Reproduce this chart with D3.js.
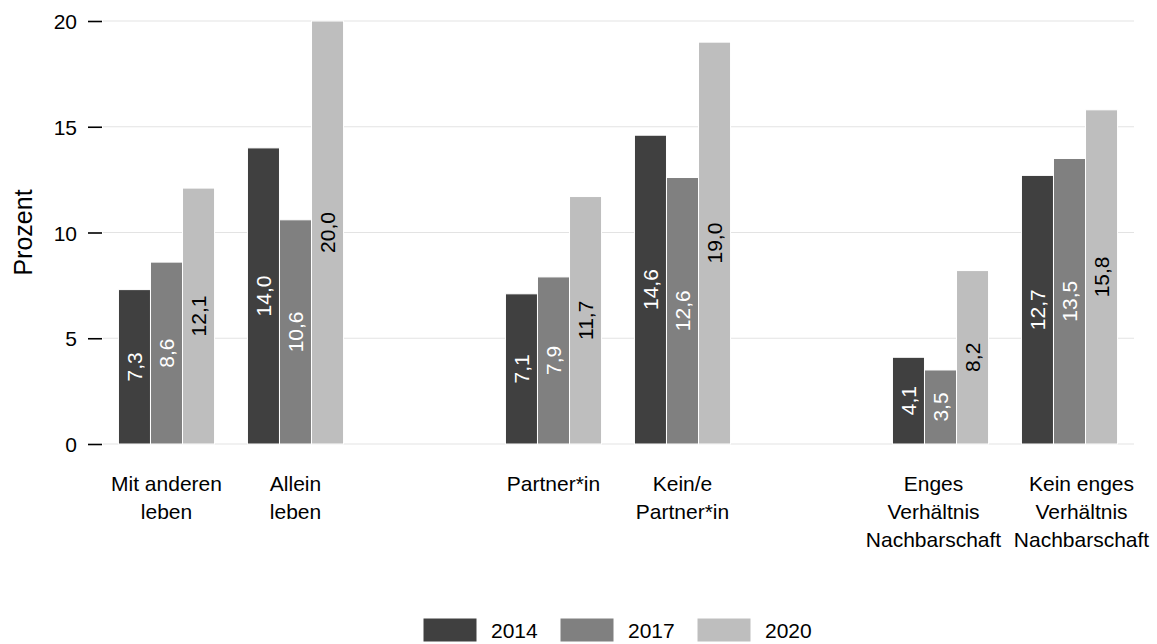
<!DOCTYPE html>
<html>
<head>
<meta charset="utf-8">
<script src="https://cdn.jsdelivr.net/npm/d3@7"></script>
<style>
  body { margin: 0; background: #fff; }
  svg text { font-family: "Liberation Sans", Arial, sans-serif; }
</style>
</head>
<body>
<div id="chart"></div>
<script>
// chart values
const categories = ['Mit anderen\nleben', 'Allein\nleben', 'Partner*in', 'Kein/e\nPartner*in',
	'Enges\nVerhältnis\nNachbarschaft', 'Kein enges\nVerhältnis\nNachbarschaft'];
const groupOf = [0, 0, 1, 1, 2, 2];
const years = ['2014', '2017', '2020'];
const values2014 = [7.3, 14.0, 7.1, 14.6, 4.1, 12.7];
const values2017 = [8.6, 10.6, 7.9, 12.6, 3.5, 13.5];
const values2020 = [12.1, 20.0, 11.7, 19.0, 8.2, 15.8];
const yTicks = [0, 5, 10, 15, 20];

const colors = { '2014': '#404040', '2017': '#808080', '2020': '#bebebe' };
const labelColors = { '2014': '#ffffff', '2017': '#ffffff', '2020': '#000000' };

const width = 1157, height = 644;
const plot = { left: 102, right: 1134, top: 21, bottom: 444 };
const fontSize = '21px';

// long labels in the last pair are pushed apart so they don't collide
const labelNudge = [0, 0, 0, 0, -7, 12];

const series = { '2014': values2014, '2017': values2017, '2020': values2020 };

// slots: a spacer between each pair of categories
const slots = [];
categories.forEach((c, i) => {
	if (i > 0 && groupOf[i] !== groupOf[i - 1]) slots.push('gap' + i);
	slots.push(c);
});

const svg = d3.select('#chart').append('svg')
	.attr('width', width)
	.attr('height', height);

// ----------------------------------
// SCALES
// ----------------------------------
const xScale = d3.scaleBand()
	.domain(slots)
	.range([plot.left, plot.right]);

const groupWidth = xScale.bandwidth() * 0.745;
const xSub = d3.scaleBand()
	.domain(years)
	.range([0, groupWidth]);

const yScale = d3.scaleLinear()
	.domain([0, 20])
	.range([plot.bottom, plot.top]);

const fmt = d3.formatLocale({ decimal: ',', thousands: '.', grouping: [3], currency: ['', '€'] }).format('.1f');

// ----------------------------------
// GRID + AXES
// ----------------------------------
svg.append('g')
	.selectAll('line')
	.data(yTicks)
	.join('line')
	.attr('x1', plot.left + 1)
	.attr('x2', plot.right)
	.attr('y1', d => yScale(d))
	.attr('y2', d => yScale(d))
	.style('stroke', '#e3e3e3')
	.style('stroke-width', 1.2);

const yAxis = svg.append('g')
	.attr('transform', `translate(${plot.left}, 0)`)
	.call(d3.axisLeft(yScale).tickValues(yTicks).tickSize(14).tickPadding(11));

yAxis.select('.domain').remove();
yAxis.selectAll('.tick line').style('stroke', '#000').style('stroke-width', 1.6);
yAxis.selectAll('.tick text')
	.style('font-size', fontSize)
	.style('fill', '#000')
	.attr('dy', '0.36em');

svg.append('text')
	.text('Prozent')
	.attr('transform', `translate(32, ${(plot.top + plot.bottom) / 2}) rotate(-90)`)
	.attr('text-anchor', 'middle')
	.style('font-size', '25px')
	.style('fill', '#000');

// ----------------------------------
// BARS
// ----------------------------------
const bars = svg.append('g');

categories.forEach((cat, i) => {
	const x0 = xScale(cat) + (xScale.bandwidth() - groupWidth) / 2;
	const g = bars.append('g').attr('transform', `translate(${x0}, 0)`);

	years.forEach(yr => {
		const v = series[yr][i];
		g.append('rect')
			.attr('x', xSub(yr))
			.attr('y', yScale(v))
			.attr('width', xSub.bandwidth())
			.attr('height', yScale(0) - yScale(v))
			.attr('fill', colors[yr])
			.attr('stroke', '#fff')
			.attr('stroke-width', 1);

		const cx = xSub(yr) + xSub.bandwidth() / 2,
			cy = yScale(v / 2);
		g.append('text')
			.text(fmt(v))
			.attr('transform', `translate(${cx}, ${cy}) rotate(-90)`)
			.attr('text-anchor', 'middle')
			.attr('dy', '0.36em')
			.style('font-size', fontSize)
			.style('fill', labelColors[yr]);
	});

	// category label
	const lbl = svg.append('text')
		.attr('text-anchor', 'middle')
		.style('font-size', fontSize)
		.style('fill', '#000');
	cat.split('\n').forEach((line, j) => {
		lbl.append('tspan')
			.attr('x', xScale(cat) + xScale.bandwidth() / 2 + labelNudge[i])
			.attr('y', 491 + j * 28)
			.text(line);
	});
});

// ----------------------------------
// LEGEND
// ----------------------------------
const legendX = d3.scaleBand()
	.domain(years)
	.range([423, 834]);

const legend = svg.append('g');
years.forEach(yr => {
	legend.append('rect')
		.attr('x', legendX(yr))
		.attr('y', 618)
		.attr('width', 54)
		.attr('height', 24)
		.attr('fill', colors[yr])
		.attr('stroke', '#fff')
		.attr('stroke-width', 1);
	legend.append('text')
		.text(yr)
		.attr('x', legendX(yr) + 68)
		.attr('y', 638)
		.style('font-size', fontSize)
		.style('fill', '#000');
});
</script>
</body>
</html>
